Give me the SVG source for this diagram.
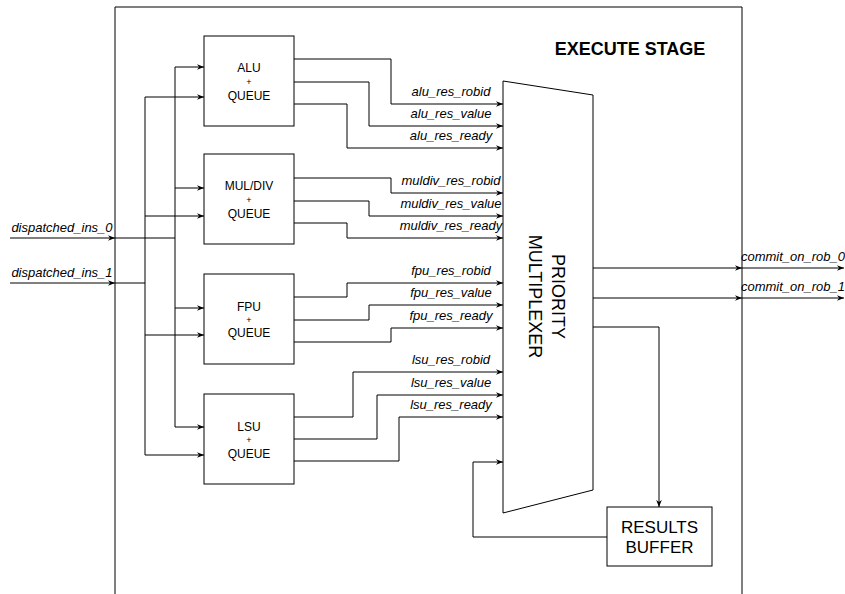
<svg xmlns="http://www.w3.org/2000/svg" width="845" height="594" viewBox="0 0 845 594">
<defs>
<style>
.ln{fill:none;stroke:#000;stroke-width:1}
.box{fill:#fff;stroke:#000;stroke-width:1}
.a{marker-end:url(#arr)}
.t{font-family:"Liberation Sans",Arial,sans-serif;fill:#000}
.nl{font-size:12px;text-anchor:middle}
.pl{font-size:9px;text-anchor:middle}
.sig{font-size:13px;font-style:italic;text-anchor:middle}
.big{font-size:18px;text-anchor:middle}
</style>
<marker id="arr" viewBox="0 0 10 10" refX="10" refY="5" markerWidth="7" markerHeight="7" orient="auto" markerUnits="userSpaceOnUse"><path d="M0,1 L10,5 L0,9 L3,5 z" fill="#000"/></marker>
</defs>
<rect width="845" height="594" fill="#fff"/>

<g id="execute-stage">
<path class="ln" d="M115,594 V7 H742 V594"/>
<text class="t" x="630" y="55" font-size="18" font-weight="bold" text-anchor="middle">EXECUTE STAGE</text>
</g>

<g id="connectors">
<!-- inputs -->
<path class="ln a" d="M10,238 H115"/>
<path class="ln a" d="M10,283 H115"/>
<path class="ln" d="M115,238 H175"/>
<path class="ln" d="M115,283 H145"/>
<path class="ln" d="M175,67 V427"/>
<path class="ln" d="M145,97 V455"/>
<path class="ln a" d="M175,67 H204"/>
<path class="ln a" d="M145,97 H204"/>
<path class="ln a" d="M175,188 H204"/>
<path class="ln a" d="M145,216 H204"/>
<path class="ln a" d="M175,308 H204"/>
<path class="ln a" d="M145,335 H204"/>
<path class="ln a" d="M175,427 H204"/>
<path class="ln a" d="M145,455 H204"/>
<!-- ALU outputs -->
<path class="ln a" d="M294,59 H391 V104 H503"/>
<path class="ln a" d="M294,82 H369 V126 H503"/>
<path class="ln a" d="M294,104 H347 V148 H503"/>
<!-- MUL/DIV outputs -->
<path class="ln a" d="M294,178 H391 V193 H503"/>
<path class="ln a" d="M294,201 H369 V216 H503"/>
<path class="ln a" d="M294,223 H347 V238 H503"/>
<!-- FPU outputs -->
<path class="ln a" d="M294,297 H347 V283 H503"/>
<path class="ln a" d="M294,320 H369 V305 H503"/>
<path class="ln a" d="M294,342 H391 V328 H503"/>
<!-- LSU outputs -->
<path class="ln a" d="M294,417 H353 V372 H503"/>
<path class="ln a" d="M294,439 H377 V395 H503"/>
<path class="ln a" d="M294,461 H399 V417 H503"/>
<!-- feedback -->
<path class="ln a" d="M607,537 H473 V462 H503"/>
<!-- mux outputs -->
<path class="ln a" d="M593,268 H742"/>
<path class="ln a" d="M593,298 H742"/>
<path class="ln a" d="M742,268 H844"/>
<path class="ln a" d="M742,298 H844"/>
<path class="ln a" d="M593,327 H659 V507"/>
<!-- labels -->
<text class="t sig" x="62" y="232">dispatched_ins_0</text>
<text class="t sig" x="62" y="277">dispatched_ins_1</text>
<text class="t sig" x="451" y="96">alu_res_robid</text>
<text class="t sig" x="451" y="118">alu_res_value</text>
<text class="t sig" x="451" y="140">alu_res_ready</text>
<text class="t sig" x="451" y="185">muldiv_res_robid</text>
<text class="t sig" x="451" y="208">muldiv_res_value</text>
<text class="t sig" x="451" y="230">muldiv_res_ready</text>
<text class="t sig" x="451" y="275">fpu_res_robid</text>
<text class="t sig" x="451" y="297">fpu_res_value</text>
<text class="t sig" x="451" y="320">fpu_res_ready</text>
<text class="t sig" x="451" y="364">lsu_res_robid</text>
<text class="t sig" x="451" y="387">lsu_res_value</text>
<text class="t sig" x="451" y="409">lsu_res_ready</text>
<text class="t sig" x="793" y="261">commit_on_rob_0</text>
<text class="t sig" x="793" y="291">commit_on_rob_1</text>
</g>

<g id="alu">
<rect class="box" x="204" y="36" width="90" height="90"/>
<text class="t nl" x="249" y="72">ALU</text>
<text class="t pl" x="249" y="85">+</text>
<text class="t nl" x="249" y="99.5">QUEUE</text>
</g>
<g id="muldiv">
<rect class="box" x="204" y="154" width="90" height="90"/>
<text class="t nl" x="249" y="190">MUL/DIV</text>
<text class="t pl" x="249" y="203">+</text>
<text class="t nl" x="249" y="217.5">QUEUE</text>
</g>
<g id="fpu">
<rect class="box" x="204" y="274" width="90" height="90"/>
<text class="t nl" x="249" y="310.5">FPU</text>
<text class="t pl" x="249" y="323">+</text>
<text class="t nl" x="249" y="337">QUEUE</text>
</g>
<g id="lsu">
<rect class="box" x="204" y="394" width="90" height="90"/>
<text class="t nl" x="249" y="431">LSU</text>
<text class="t pl" x="249" y="443">+</text>
<text class="t nl" x="249" y="457.5">QUEUE</text>
</g>

<g id="priority-mux">
<polygon class="box" points="503,81 593,95 593,490 503,513"/>
<text class="t big" transform="translate(552,296.5) rotate(90)">PRIORITY</text>
<text class="t big" transform="translate(528.5,296.5) rotate(90)">MULTIPLEXER</text>
</g>

<g id="results-buffer">
<rect class="box" x="607" y="507" width="105" height="59"/>
<text class="t" x="659.5" y="533" font-size="17" text-anchor="middle">RESULTS</text>
<text class="t" x="659.5" y="553" font-size="17" text-anchor="middle">BUFFER</text>
</g>
</svg>
